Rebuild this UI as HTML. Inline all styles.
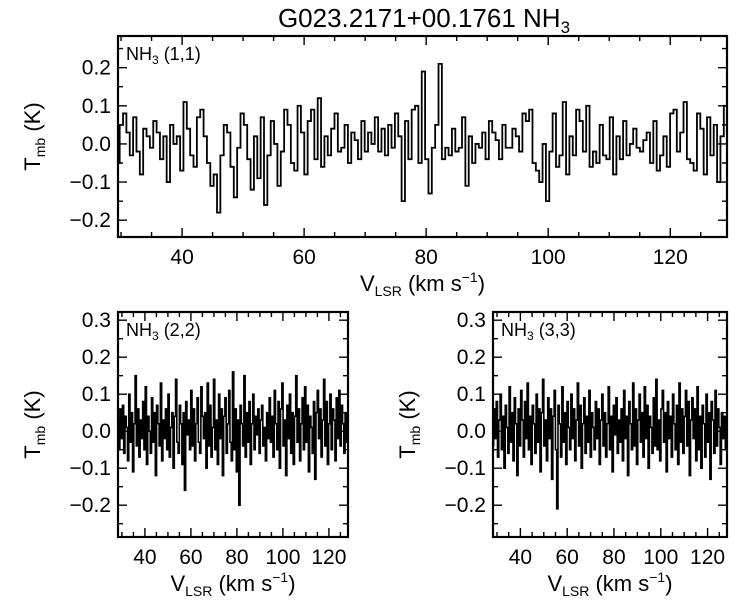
<!DOCTYPE html>
<html><head><meta charset="utf-8"><style>
html,body{margin:0;padding:0;background:#fff}
svg{display:block}
text{font-family:"Liberation Sans",Helvetica,Arial,sans-serif;fill:#000}
</style></head><body>
<svg id="fig" width="750" height="600" viewBox="0 0 750 600" xmlns="http://www.w3.org/2000/svg">
<text x="424" y="27" text-anchor="middle" font-size="26">G023.2171+00.1761 NH<tspan font-size="17" dy="6">3</tspan></text>
</svg>
<script>
// NH3 (1,1): start velocity 29.5, channel 0.55 km/s, values in K
const v11Start = 29.5, v11Step = 0.55;
const t11 = [-0.05,0.05,0.08,0.03,-0.03,0.07,-0.02,-0.08,0.04,0.02,-0.01,0.06,0.03,-0.04,0.02,-0.10,0.05,0.00,0.02,-0.07,0.11,0.04,-0.03,-0.06,0.07,0.09,0.02,-0.05,-0.11,-0.08,
-0.18,-0.03,0.05,0.03,-0.06,-0.14,-0.01,0.08,0.05,-0.04,-0.12,0.02,-0.09,0.07,-0.16,-0.03,0.06,0.00,-0.11,-0.02,
0.09,0.05,-0.05,-0.07,0.10,0.03,-0.08,0.06,0.09,-0.04,0.12,-0.06,0.02,-0.03,0.04,0.08,-0.02,-0.01,0.05,-0.05,
0.03,0.01,-0.04,0.06,-0.02,0.03,0.00,0.07,-0.02,0.04,-0.03,0.05,-0.01,0.08,0.02,-0.15,0.06,-0.04,0.09,0.10,
-0.05,0.19,-0.04,-0.13,-0.01,0.05,0.21,-0.04,-0.01,-0.03,0.04,-0.02,-0.01,0.07,-0.11,0.02,-0.05,0.00,-0.01,0.03,
-0.04,0.06,0.03,0.01,-0.04,0.05,-0.01,-0.01,0.04,0.02,-0.02,0.08,0.06,0.09,-0.05,-0.07,-0.10,0.00,-0.15,-0.02,
0.08,-0.06,-0.03,0.11,-0.08,0.02,-0.03,0.09,0.06,-0.02,0.10,-0.06,-0.02,-0.05,0.05,-0.03,-0.04,0.07,-0.08,0.02,
-0.04,0.06,-0.03,0.00,0.04,-0.01,-0.02,0.01,0.03,-0.05,0.06,-0.07,-0.03,0.02,-0.06,0.08,0.09,-0.02,0.03,0.11,
-0.04,-0.05,-0.07,0.08,0.04,-0.08,0.07,-0.03,0.05,-0.10,0.02,0.10,-0.05,-0.06,0.01,0.06,0.04,-0.09,0.03,-0.13];
// NH3 (2,2)
const v22Start = 28.3, v22Step = 0.55;
const t22 = [0.03,-0.05,0.06,-0.02,0.07,-0.06,0.04,0.01,-0.08,0.10,-0.03,0.05,-0.11,0.02,0.15,-0.04,0.06,-0.07,0.03,-0.02,
0.08,-0.05,0.12,-0.09,0.04,0.00,-0.06,0.09,-0.03,0.05,-0.12,0.07,0.02,-0.04,0.13,-0.08,0.03,-0.02,0.06,-0.05,
0.10,-0.07,0.01,0.05,-0.10,0.04,0.14,-0.03,-0.06,0.07,0.02,-0.09,0.05,-0.16,0.08,-0.01,0.03,-0.05,0.11,-0.04,
0.06,-0.08,0.02,0.09,-0.03,-0.06,0.12,0.04,-0.02,0.05,-0.10,0.13,-0.04,0.07,-0.07,0.01,0.14,-0.05,0.03,-0.09,
0.10,-0.02,0.06,-0.12,0.04,0.09,-0.06,0.02,0.11,-0.03,-0.08,0.16,-0.05,0.06,-0.11,0.03,-0.20,0.07,0.02,-0.04,
0.15,-0.07,0.05,-0.03,0.08,-0.09,0.02,0.10,-0.05,0.04,-0.01,0.06,-0.06,0.03,0.07,-0.04,0.01,-0.08,0.05,-0.02,
0.09,-0.03,0.04,-0.07,0.11,0.02,-0.05,0.08,-0.10,0.06,0.13,-0.04,0.03,-0.12,0.07,-0.02,0.10,-0.06,0.05,-0.09,
0.04,0.15,-0.03,0.06,-0.08,0.02,0.09,-0.05,0.12,-0.03,0.07,-0.11,0.04,0.01,-0.06,0.08,-0.13,0.05,0.11,-0.02,
0.06,-0.07,0.03,0.14,-0.04,0.08,-0.09,0.02,0.10,-0.05,0.06,0.03,-0.08,0.09,-0.02,0.11,-0.04,0.07,0.02,-0.06,
0.05,-0.03];
// NH3 (3,3)
const v33Start = 28.3, v33Step = 0.55;
const t33 = [-0.04,0.06,-0.02,0.08,-0.07,0.03,0.10,-0.05,0.04,-0.10,0.07,0.01,-0.06,0.12,-0.03,0.05,-0.08,0.09,0.02,-0.12,
0.06,-0.04,0.11,0.03,-0.07,0.08,-0.02,0.13,-0.05,0.04,-0.09,0.07,0.02,-0.06,0.10,-0.03,0.06,-0.11,0.05,0.14,
-0.04,0.03,-0.08,0.09,-0.02,0.06,-0.13,0.04,0.11,-0.05,-0.21,0.07,0.02,-0.07,0.12,-0.03,0.05,-0.09,0.08,0.01,
-0.05,0.10,-0.02,0.06,-0.08,0.03,0.13,-0.04,0.07,-0.10,0.02,0.09,-0.06,0.04,-0.03,0.11,-0.07,0.05,0.01,-0.05,
0.08,-0.02,0.06,-0.09,0.03,0.10,-0.04,0.05,-0.07,0.02,0.12,-0.05,0.04,-0.11,0.07,-0.01,0.09,-0.06,0.03,-0.03,
0.06,-0.08,0.11,-0.02,0.04,-0.12,0.08,0.02,-0.05,0.13,-0.04,0.06,-0.09,0.03,0.10,-0.03,0.05,-0.07,0.12,-0.02,
0.07,-0.10,0.04,0.01,-0.06,0.09,-0.04,0.14,-0.05,0.03,-0.08,0.06,0.11,-0.03,0.05,-0.11,0.08,-0.02,0.04,-0.07,
0.10,0.02,-0.05,0.07,-0.09,0.13,-0.03,0.06,-0.06,0.04,0.11,-0.04,0.08,-0.12,0.03,0.09,-0.02,0.06,-0.08,0.12,
-0.05,0.04,-0.10,0.07,0.02,-0.07,0.10,-0.03,0.05,-0.13,0.08,0.03,-0.06,0.11,-0.04,0.06,0.01,-0.09,0.05,-0.02,
0.04,-0.05];
const xTicks11 = [40,60,80,100,120];
const yTicks11 = [-0.2,-0.1,0.0,0.1,0.2];
const xTicksB = [40,60,80,100,120];
const yTicksB = [-0.2,-0.1,0.0,0.1,0.2,0.3];

const NS = "http://www.w3.org/2000/svg";
const svg = document.getElementById('fig');
function mk(tag, attrs, parent){
  const e = document.createElementNS(NS, tag);
  for (const k in attrs) e.setAttribute(k, attrs[k]);
  (parent||svg).appendChild(e);
  return e;
}
function panel(o){
  const g = mk('g', {});
  
  
  const sx = v => o.x0 + (v - o.xmin) / (o.xmax - o.xmin) * (o.x1 - o.x0);
  const sy = t => o.y1 - (t - o.ymin) / (o.ymax - o.ymin) * (o.y1 - o.y0);
  const cid = o.name + '-clip';
  const cp = mk('clipPath', {id: cid}, g);
  mk('rect', {x:o.x0, y:o.y0, width:o.x1-o.x0, height:o.y1-o.y0}, cp);
  let d = '';
  o.data.forEach((t, i) => {
    const a = sx(o.vStart + i * o.vStep - o.vStep/2), b = sx(o.vStart + i * o.vStep + o.vStep/2), y = sy(t);
    d += (i === 0 ? 'M' : 'L') + a.toFixed(2) + ',' + y.toFixed(2) + 'L' + b.toFixed(2) + ',' + y.toFixed(2);
  });
  const p = mk('path', {d:d, fill:'none', stroke:'#000', 'stroke-width':o.sw, 'clip-path':'url(#' + cid + ')'}, g);
  
  
  let td = '';
  for (let v = Math.ceil(o.xmin/5)*5; v <= o.xmax; v += 5) {
    const x = sx(v), L = (v % 20 === 0) ? 9 : 5;
    td += `M${x},${o.y1}v${-L}M${x},${o.y0}v${L}`;
  }
  for (let k = Math.ceil(o.ymin/0.05 - 1e-6); k*0.05 <= o.ymax + 1e-9; k++) {
    const y = sy(k*0.05), L = (k % 2 === 0) ? 9 : 5;
    td += `M${o.x0},${y}h${L}M${o.x1},${y}h${-L}`;
  }
  mk('path', {d:td, stroke:'#000', 'stroke-width':1.4, fill:'none'}, g);
  const fr = mk('rect', {x:o.x0, y:o.y0, width:o.x1-o.x0, height:o.y1-o.y0, fill:'none', stroke:'#000', 'stroke-width':2.2}, g);
  
  
  o.xt.forEach(v => {
    const t = mk('text', {x:sx(v), y:o.y1+27, 'text-anchor':'middle', 'font-size':21}, g);
    
    
    t.textContent = v;
  });
  o.yt.forEach(v => {
    const t = mk('text', {x:o.x0-7, y:sy(v)+7, 'text-anchor':'end', 'font-size':21}, g);
    
    
    t.textContent = (v < 0 ? '\u2212' : '') + Math.abs(v).toFixed(1);
  });
  const lab = mk('text', {x:o.x0+8, y:o.y0+24, 'font-size':18}, g);
  
  
  lab.innerHTML = 'NH<tspan font-size="12" dy="4">3</tspan><tspan dy="-4"> ' + o.label + '</tspan>';
  const xl = mk('text', {x:(o.x0+o.x1)/2, y:o.y1+54, 'text-anchor':'middle', 'font-size':22}, g);
  
  
  xl.innerHTML = 'V<tspan font-size="14" dy="5">LSR</tspan><tspan dy="-5"> (km s</tspan><tspan font-size="14" dy="-9">\u22121</tspan><tspan dy="9">)</tspan>';
  const cy = (o.y0+o.y1)/2, cx = o.x0 - 78;
  const yl = mk('text', {x:cx, y:cy, 'text-anchor':'middle', 'font-size':22, transform:`rotate(-90 ${cx} ${cy})`}, g);
  
  
  yl.innerHTML = 'T<tspan font-size="14" dy="5">mb</tspan><tspan dy="-5"> (K)</tspan>';
}
panel({name:'panel-nh3-11', x0:118, x1:727, y0:36, y1:237, xmin:29.5, xmax:129.3, ymin:-0.244, ymax:0.283,
  data:t11, vStart:v11Start, vStep:v11Step, xt:xTicks11, yt:yTicks11, label:'(1,1)', sw:1.8});
panel({name:'panel-nh3-22', x0:118, x1:348, y0:312, y1:537, xmin:28.3, xmax:128.3, ymin:-0.286, ymax:0.322,
  data:t22, vStart:v22Start, vStep:v22Step, xt:xTicksB, yt:yTicksB, label:'(2,2)', sw:1.6});
panel({name:'panel-nh3-33', x0:493, x1:727, y0:312, y1:537, xmin:28.3, xmax:128.3, ymin:-0.286, ymax:0.322,
  data:t33, vStart:v33Start, vStep:v33Step, xt:xTicksB, yt:yTicksB, label:'(3,3)', sw:1.6});
</script>
</body></html>
